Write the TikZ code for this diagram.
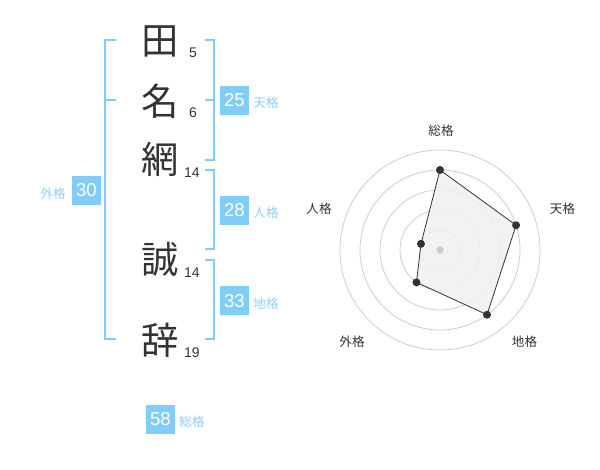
\documentclass[tikz,border=0pt]{standalone}
\usepackage{fontspec}
\setmainfont{Liberation Sans}
\newfontfamily\jp{Noto Sans CJK JP}
\usetikzlibrary{calc}
\definecolor{kblue}{HTML}{82CDF8}
\definecolor{klabel}{HTML}{8CD0F6}
\definecolor{ink}{HTML}{333333}
\definecolor{ringgray}{HTML}{CCCCCC}
\definecolor{polyfill}{HTML}{F0F0F0}
\tikzset{
  kanji/.style={font=\jp\fontsize{28}{28}\selectfont, text=ink, inner sep=0pt},
  strokes/.style={font=\fontsize{10.5}{10.5}\selectfont, text=ink, inner sep=0pt},
  valbox/.style={fill=kblue, text=white, minimum size=21.75pt, inner sep=0pt, font=\fontsize{14}{14}\selectfont},
  kaku/.style={font=\jp\fontsize{9.4}{9.4}\selectfont, text=klabel, inner sep=0pt},
  bracket/.style={draw=kblue, line width=1.5pt},
  ring/.style={draw=ringgray, line width=0.6pt},
  axislabel/.style={font=\jp\fontsize{9.4}{9.4}\selectfont, text=ink, inner sep=0pt},
  dot/.style={circle, fill=ink, inner sep=0pt, minimum size=6pt},
}
\begin{document}
\begin{tikzpicture}[x=0.75pt,y=-0.75pt]
\useasboundingbox (0,0) rectangle (600,470);
% characters
\node[kanji] (c1) at (160,41) {田};
\node[kanji] (c2) at (160,101.5) {名};
\node[kanji] (c3) at (160,159.5) {網};
\node[kanji] (c4) at (160,259.5) {誠};
\node[kanji] (c5) at (160,340.5) {辞};
% stroke counts
\node[strokes] (s1) at (193,53) {5};
\node[strokes] (s2) at (193,113) {6};
\node[strokes] (s3) at (192,173) {14};
\node[strokes] (s4) at (192,273) {14};
\node[strokes] (s5) at (192,353) {19};
% left bracket (外格)
\coordinate (lt) at (116,40);
\coordinate (lm) at (116,100);
\coordinate (lb) at (116,339);
\draw[bracket] (lt) -- (105,40) -- (105,339) -- (lb);
\draw[bracket] (105,100) -- (lm);
% right brackets
\coordinate (r1t) at (205,40);
\coordinate (r1m) at (205,100);
\coordinate (r1b) at (205,160);
\draw[bracket] (r1t) -- (214,40) -- (214,160) -- (r1b);
\draw[bracket] (214,100) -- (r1m);
\coordinate (r2t) at (205,170);
\coordinate (r2b) at (205,249.5);
\draw[bracket] (r2t) -- (214,170) -- (214,249.5) -- (r2b);
\coordinate (r3t) at (205,260);
\coordinate (r3b) at (205,339);
\draw[bracket] (r3t) -- (214,260) -- (214,339) -- (r3b);
% value boxes
\node[valbox] (ten) at (234.5,100.5) {25};
\node[kaku] (tenl) at (266,103) {天格};
\node[valbox] (jin) at (234.5,210.5) {28};
\node[kaku] (jinl) at (266,213) {人格};
\node[valbox] (chi) at (234.5,301) {33};
\node[kaku] (chil) at (266,303.5) {地格};
\node[valbox] (gai) at (86.5,190.5) {30};
\node[kaku] (gail) at (53,193.5) {外格};
\node[valbox] (sou) at (160.5,419) {58};
\node[kaku] (soul) at (192,422) {総格};
% radar chart
\coordinate (c) at (440,250);
\foreach \r in {20,40,60,80,100} \draw[ring] (c) circle[radius=\r];
\coordinate (p1) at ($(c)+(-90:80)$);
\coordinate (p2) at ($(c)+(-18:80)$);
\coordinate (p3) at ($(c)+(54:80)$);
\coordinate (p4) at ($(c)+(126:40)$);
\coordinate (p5) at ($(c)+(-162:20)$);
\draw[fill=polyfill, fill opacity=0.85, draw=ink, line width=0.6pt] (p1) -- (p2) -- (p3) -- (p4) -- (p5) -- cycle;
\node[circle, fill=ringgray, inner sep=0pt, minimum size=5.5pt] (cd) at (c) {};
\foreach \i in {1,...,5} \node[dot] (d\i) at (p\i) {};
\node[axislabel] (a1) at (441,131) {総格};
\node[axislabel] (a2) at (562.5,209) {天格};
\node[axislabel] (a3) at (524.5,342) {地格};
\node[axislabel] (a4) at (352,342) {外格};
\node[axislabel] (a5) at (319,209) {人格};
\end{tikzpicture}
\end{document}
